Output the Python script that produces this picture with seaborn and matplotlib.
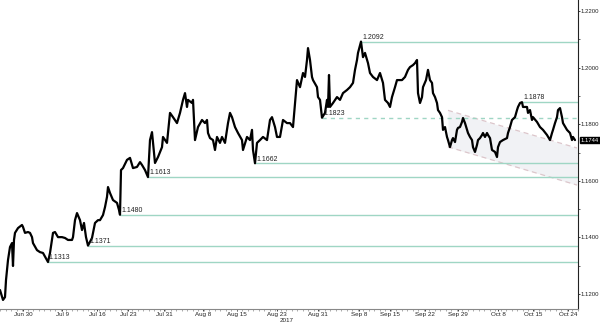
import matplotlib
matplotlib.use("Agg")
import matplotlib.pyplot as plt
import seaborn as sns
import pandas as pd
from matplotlib.ticker import MultipleLocator, FixedLocator

# ---- data (bar index ~ time position, price = EUR/USD) ----
bar = [0, 3, 5, 6, 8, 10, 12, 13, 14, 15, 18, 22, 23, 25, 28, 30, 32, 33, 37, 40,
       43, 47, 48, 50, 53, 55, 58, 62, 65, 68, 72, 73, 75, 77, 80, 82, 84, 86, 88, 92,
       95, 98, 100, 103, 105, 107, 108, 110, 113, 117, 119, 120, 121, 123, 127, 130, 133, 137, 140, 142,
       145, 148, 150, 152, 155, 158, 162, 163, 167, 170, 173, 177, 180, 183, 185, 187, 188, 192, 193, 195,
       198, 202, 205, 207, 208, 210, 213, 215, 217, 220, 222, 225, 228, 230, 232, 235, 238, 242, 243, 247,
       250, 252, 253, 255, 257, 260, 263, 267, 270, 272, 275, 277, 280, 283, 287, 290, 293, 295, 297, 300,
       303, 305, 307, 308, 310, 312, 313, 317, 318, 320, 322, 325, 327, 328, 329, 330, 333, 337, 340, 343,
       347, 350, 353, 355, 357, 358, 361, 363, 365, 368, 370, 373, 377, 380, 383, 385, 388, 390, 392, 395,
       397, 402, 405, 408, 410, 413, 415, 417, 418, 420, 422, 423, 426, 428, 430, 432, 433, 435, 437, 438,
       440, 442, 443, 445, 447, 448, 450, 452, 453, 455, 457, 458, 460, 462, 463, 465, 467, 468, 470, 472,
       473, 475, 477, 478, 480, 482, 483, 485, 487, 488, 490, 492, 495, 497, 498, 500, 503, 507, 508, 510,
       512, 515, 517, 518, 520, 522, 523, 527, 528, 530, 532, 533, 537, 540, 543, 547, 550, 552, 553, 555,
       557, 558, 560, 562, 563, 567, 570, 572, 573, 575]
price = [1.1214, 1.1179, 1.1189, 1.1249, 1.1320, 1.1366, 1.1380, 1.1299, 1.1391, 1.1416,
         1.1433, 1.1444, 1.1437, 1.1416, 1.1419, 1.1416, 1.1401, 1.1380, 1.1355, 1.1348,
         1.1345, 1.1320, 1.1313, 1.1345, 1.1416, 1.1419, 1.1401, 1.1401, 1.1398, 1.1391,
         1.1391, 1.1401, 1.1461, 1.1486, 1.1461, 1.1426, 1.1451, 1.1401, 1.1371, 1.1398,
         1.1451, 1.1461, 1.1461, 1.1479, 1.1507, 1.1543, 1.1578, 1.1557, 1.1532, 1.1522,
         1.1497, 1.1480, 1.1638, 1.1645, 1.1674, 1.1681, 1.1645, 1.1649, 1.1666, 1.1656,
         1.1638, 1.1613, 1.1744, 1.1772, 1.1663, 1.1684, 1.1719, 1.1755, 1.1734, 1.1840,
         1.1825, 1.1804, 1.1840, 1.1886, 1.1910, 1.1861, 1.1886, 1.1875, 1.1886, 1.1744,
         1.1790, 1.1815, 1.1804, 1.1815, 1.1769, 1.1751, 1.1744, 1.1709, 1.1755, 1.1734,
         1.1755, 1.1734, 1.1804, 1.1840, 1.1825, 1.1790, 1.1769, 1.1744, 1.1709, 1.1755,
         1.1744, 1.1780, 1.1709, 1.1662, 1.1734, 1.1744, 1.1755, 1.1744, 1.1815, 1.1825,
         1.1790, 1.1755, 1.1755, 1.1815, 1.1804, 1.1804, 1.1790, 1.1875, 1.1956, 1.1931,
         1.1981, 1.1967, 1.2027, 1.2069, 1.2027, 1.1967, 1.1956, 1.1931, 1.1896, 1.1886,
         1.1823, 1.1840, 1.1886, 1.1861, 1.1974, 1.1861, 1.1875, 1.1896, 1.1886, 1.1910,
         1.1921, 1.1931, 1.1946, 1.1992, 1.2027, 1.2052, 1.2092, 1.2037, 1.2052, 1.2016,
         1.1981, 1.1967, 1.1956, 1.1981, 1.1946, 1.1886, 1.1875, 1.1861, 1.1896, 1.1931,
         1.1956, 1.1956, 1.1967, 1.1992, 1.2002, 1.2009, 1.2016, 1.2027, 1.1910, 1.1875,
         1.1896, 1.1931, 1.1956, 1.1992, 1.1956, 1.1946, 1.1910, 1.1896, 1.1875, 1.1850,
         1.1840, 1.1825, 1.1780, 1.1790, 1.1755, 1.1744, 1.1719, 1.1744, 1.1751, 1.1737,
         1.1780, 1.1787, 1.1790, 1.1808, 1.1822, 1.1804, 1.1780, 1.1769, 1.1755, 1.1744,
         1.1719, 1.1702, 1.1727, 1.1744, 1.1751, 1.1762, 1.1769, 1.1755, 1.1769, 1.1762,
         1.1751, 1.1709, 1.1702, 1.1684, 1.1719, 1.1737, 1.1744, 1.1751, 1.1769, 1.1790,
         1.1815, 1.1825, 1.1850, 1.1861, 1.1875, 1.1878, 1.1861, 1.1861, 1.1840, 1.1850,
         1.1815, 1.1825, 1.1808, 1.1790, 1.1780, 1.1762, 1.1744, 1.1769, 1.1780, 1.1804,
         1.1825, 1.1850, 1.1857, 1.1825, 1.1804, 1.1780, 1.1769, 1.1744, 1.1755, 1.1744]

# support / resistance levels and the bar where each starts
levels = [1.2092, 1.1878, 1.1823, 1.1662, 1.1613, 1.1480, 1.1371, 1.1313]
level_start = [361, 522, 322, 255, 148, 120, 88, 47]
level_dashed = [False, False, True, False, False, False, False, False]

# descending channel
channel_bar = [448, 577]
channel_upper = [1.1849, 1.1716]
channel_lower = [1.1720, 1.1585]

last_price = 1.1744

tick_bars = [23, 62, 97, 128, 164, 203, 237, 277, 318, 359, 390, 425, 458, 498, 533, 568]
tick_labels = ["Jun 30", "Jul 9", "Jul 16", "Jul 23", "Jul 31", "Aug 8", "Aug 15", "Aug 23",
               "Aug 31", "Sep 8", "Sep 15", "Sep 22", "Sep 29", "Oct 8", "Oct 15", "Oct 24"]
year_label = "2017"
y_ticks = [1.12, 1.14, 1.16, 1.18, 1.20, 1.22]

# ---- drawing ----
sns.set_theme(style="white")
plt.rcParams["font.family"] = ["Liberation Sans", "DejaVu Sans"]

W, H = 600, 323
fig = plt.figure(figsize=(W / 100, H / 100), dpi=100)
ax = fig.add_axes([0, 14 / H, 578 / W, 309 / H])
XMAX = 578
ax.set_xlim(0, XMAX)
ax.set_ylim(1.1147, 1.2239)

# channel
ax.fill_between(channel_bar, channel_lower, channel_upper, color="#f1f2f5", zorder=1, lw=0)
ax.plot(channel_bar, channel_upper, color="#dcc6cb", lw=0.9, ls=(0, (4, 3)), zorder=2)
ax.plot(channel_bar, channel_lower, color="#dcc6cb", lw=0.9, ls=(0, (4, 3)), zorder=2)

# levels
for lv, st, dsh in zip(levels, level_start, level_dashed):
    ax.hlines(lv, st, XMAX, color="#9fd6c4", lw=1.0,
              linestyles=(0, (3, 3)) if dsh else "solid", zorder=2)
    ax.annotate(f"{lv:.4f}", (st, lv), xytext=(1, 0.5), textcoords="offset points",
                fontsize=5, color="#222222", va="bottom", ha="left", zorder=5)

# price
df = pd.DataFrame({"bar": bar, "price": price})
sns.lineplot(data=df, x="bar", y="price", color="black", lw=1.6, ax=ax,
             estimator=None, sort=False, zorder=4)

# axes style
ax.set_xlabel("")
ax.set_ylabel("")
for s in ["top", "left"]:
    ax.spines[s].set_visible(False)
ax.spines["right"].set_color("#222222")
ax.spines["right"].set_linewidth(0.8)
ax.spines["bottom"].set_color("#888888")
ax.spines["bottom"].set_linewidth(0.8)

ax.yaxis.tick_right()
ax.yaxis.set_major_locator(FixedLocator(y_ticks))
ax.set_yticklabels([f"{v:.4f}" for v in y_ticks])
ax.yaxis.set_minor_locator(MultipleLocator(0.01))
ax.tick_params(axis="y", which="major", labelsize=4.3, length=1.5, width=0.6, pad=0.3,
               colors="#222222", right=True, left=False)
ax.tick_params(axis="y", which="minor", length=1.2, width=0.5, right=True, left=False,
               colors="#222222")

ax.xaxis.set_major_locator(FixedLocator(tick_bars))
ax.set_xticklabels(tick_labels)
ax.xaxis.set_minor_locator(MultipleLocator(5.5))
ax.tick_params(axis="x", which="major", labelsize=4.5, length=1.5, width=0.6, pad=0.5,
               colors="#222222", bottom=True)
ax.tick_params(axis="x", which="minor", length=1.2, width=0.5, bottom=True, colors="#888888")

fig.text(287 / W, 1 - 320.5 / H, year_label, fontsize=4.5, color="#222222", ha="center", va="center")

# last price tag
ax.annotate(f"{last_price:.4f}", (XMAX, last_price), xytext=(2, 0), textcoords="offset points",
            fontsize=4.2, color="white", va="center", ha="left", annotation_clip=False,
            bbox=dict(boxstyle="square,pad=0.15", fc="black", ec="black"), zorder=6)

fig.savefig("out.png", dpi=100)
